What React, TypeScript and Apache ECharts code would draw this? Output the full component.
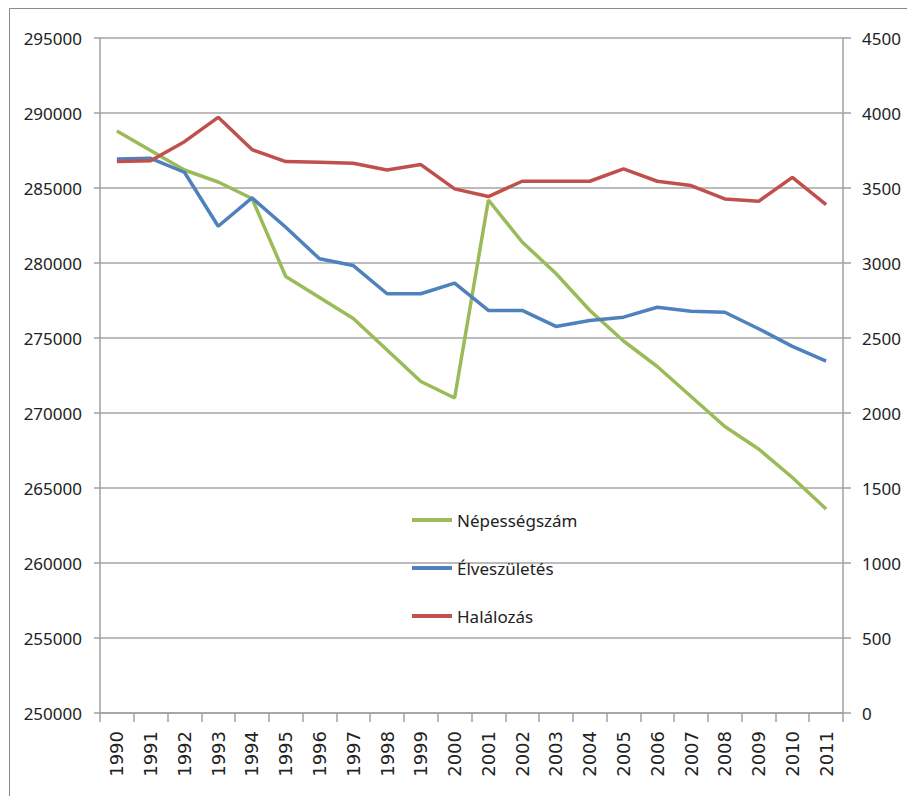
import React, { useEffect, useRef } from "react";
import * as echarts from "echarts";

const years = ["1990","1991","1992","1993","1994","1995","1996","1997","1998","1999","2000","2001","2002","2003","2004","2005","2006","2007","2008","2009","2010","2011"];
const nepessegszam = [288800,287500,286200,285400,284300,279100,277700,276300,274200,272100,271000,284200,281400,279300,276850,274800,273100,271100,269100,267600,265700,263600];
const elveszuletes = [3694,3698,3605,3245,3434,3238,3028,2983,2795,2795,2866,2684,2684,2577,2617,2639,2705,2679,2672,2562,2444,2346];
const halalozas = [3676,3682,3809,3971,3756,3676,3671,3665,3620,3656,3494,3443,3545,3545,3545,3627,3545,3516,3427,3411,3571,3389];
const seriesNames = ["Népességszám", "Élveszületés", "Halálozás"];

export default function App() {
  const ref = useRef<HTMLDivElement>(null);
  useEffect(() => {
    if (!ref.current) return;
    const chart = echarts.init(ref.current, undefined, { renderer: "svg" });
    const yFont = { fontFamily: "Noto Sans", fontSize: 17, color: "#222" };
    chart.setOption({
      animation: false,
      backgroundColor: "#fff",
      graphic: [
        {
          type: "rect",
          shape: { x: 9.5, y: 8.5, width: 1000, height: 1000 },
          style: { fill: "none", stroke: "#8a8a8a", lineWidth: 1 },
          silent: true,
          z: 0,
        },
      ],
      grid: { left: 100, right: 64, top: 38, bottom: 83, containLabel: false },
      legend: {
        orient: "vertical",
        left: 407,
        top: 505,
        icon: "rect",
        itemWidth: 40,
        itemHeight: 4,
        itemGap: 28,
        itemStyle: { borderWidth: 0 },
        textStyle: { fontFamily: "Noto Sans", fontSize: 17, color: "#222", lineHeight: 20 },
        data: seriesNames,
      },
      xAxis: {
        type: "category",
        data: years,
        boundaryGap: true,
        axisLine: { lineStyle: { color: "#a0a0a0", width: 1.5 } },
        axisTick: { show: true, length: 9, inside: false, lineStyle: { color: "#a0a0a0", width: 1.5 } },
        axisLabel: { rotate: 90, margin: 18, fontFamily: "DejaVu Sans", fontSize: 18, color: "#222", interval: 0 },
      },
      yAxis: [
        {
          type: "value",
          min: 250000,
          max: 295000,
          interval: 5000,
          position: "left",
          axisLine: { show: true, lineStyle: { color: "#a0a0a0", width: 1.5 } },
          axisTick: { show: true, length: 6, lineStyle: { color: "#a0a0a0", width: 1.5 } },
          splitLine: { show: true, lineStyle: { color: "#a6a6a6", width: 1.5 } },
          axisLabel: { ...yFont, margin: 18, formatter: (v: number) => String(v) },
        },
        {
          type: "value",
          min: 0,
          max: 4500,
          interval: 500,
          position: "right",
          axisLine: { show: true, lineStyle: { color: "#a0a0a0", width: 1.5 } },
          axisTick: { show: true, length: 8, lineStyle: { color: "#a0a0a0", width: 1.5 } },
          splitLine: { show: false },
          axisLabel: { ...yFont, margin: 19, formatter: (v: number) => String(v) },
        },
      ],
      series: [
        {
          name: seriesNames[0],
          type: "line",
          yAxisIndex: 0,
          data: nepessegszam,
          symbol: "none",
          lineStyle: { color: "#9bbb59", width: 3.5 },
          itemStyle: { color: "#9bbb59" },
          z: 3,
        },
        {
          name: seriesNames[1],
          type: "line",
          yAxisIndex: 1,
          data: elveszuletes,
          symbol: "none",
          lineStyle: { color: "#4f81bd", width: 3.5 },
          itemStyle: { color: "#4f81bd" },
          z: 4,
        },
        {
          name: seriesNames[2],
          type: "line",
          yAxisIndex: 1,
          data: halalozas,
          symbol: "none",
          lineStyle: { color: "#c0504d", width: 3.5 },
          itemStyle: { color: "#c0504d" },
          z: 5,
        },
      ],
    });
    return () => chart.dispose();
  }, []);
  return (
    <div
      ref={ref}
      style={{ position: "fixed", left: 0, top: 0, width: 907, height: 796 }}
    />
  );
}
